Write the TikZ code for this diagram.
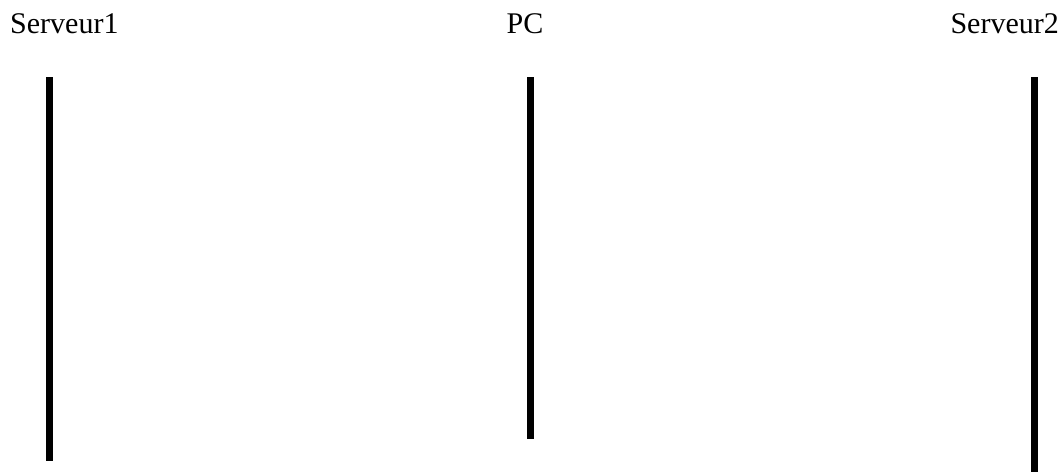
\documentclass[tikz,border=0pt]{standalone}
\usepackage{fontspec}
\setmainfont{Liberation Serif}
\begin{document}
\begin{tikzpicture}[x=1pt,y=-1pt,
  lbl/.style={inner sep=0pt,font=\fontsize{30}{36}\selectfont},
  lifeline/.style={line width=7pt,black}]
\useasboundingbox (0,0) rectangle (1062,472);
\node[lbl,anchor=base west] (s1) at (10,33) {Serveur1};
\node[lbl,anchor=base] (pc) at (525,33) {PC};
\node[lbl,anchor=base east] (s2) at (1059,33) {Serveur2};
\coordinate (s1top) at (49.5,77);
\coordinate (s1bot) at (49.5,461);
\coordinate (pctop) at (530,77);
\coordinate (pcbot) at (530,439);
\coordinate (s2top) at (1034,77);
\coordinate (s2bot) at (1034,472);
\draw[lifeline] (s1top) -- (s1bot);
\draw[lifeline] (pctop) -- (pcbot);
\draw[lifeline] (s2top) -- (s2bot);
\end{tikzpicture}
\end{document}
